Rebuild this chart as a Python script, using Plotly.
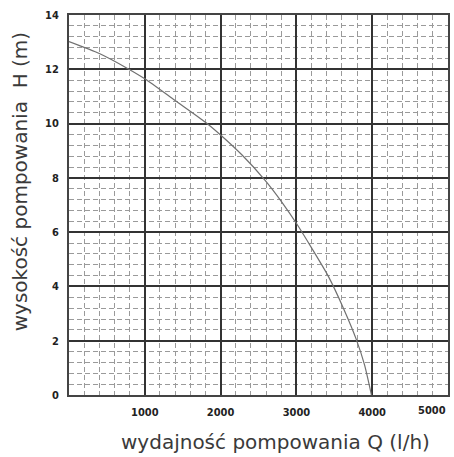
import plotly.graph_objects as go

# Pump curve: flow Q (l/h) vs head H (m)
Q = [0, 400, 760, 1000, 1400, 1800, 2000, 2280, 2590, 2810, 3010, 3200, 3420, 3620, 3790, 3900, 3990]
H = [13.02, 12.58, 12.05, 11.65, 10.85, 10.05, 9.58, 8.85, 7.9, 7.1, 6.28, 5.42, 4.38, 3.2, 2.05, 1.1, 0.0]

x_ticks = [0, 1000, 2000, 3000, 4000, 5000]
x_labels = ["", "1000", "2000", "3000", "4000", ""]
x_last_label = "5000"
y_ticks = [0, 2, 4, 6, 8, 10, 12, 14]
y_labels = ["0", "2", "4", "6", "8", "10", "12", "14"]

x_title = "wydajność pompowania Q (l/h)"
y_title = "wysokość pompowania  H (m)"

fig = go.Figure()
fig.add_trace(go.Scatter(x=Q, y=H, mode="lines",
                         line=dict(color="#707070", width=1.2, shape="spline", smoothing=0.6),
                         showlegend=False, hoverinfo="skip"))

tickfont = dict(family="DejaVu Sans Condensed", size=11, color="#222", weight="bold")

fig.update_xaxes(range=[0, 5000], tickmode="array", tickvals=x_ticks, ticktext=x_labels,
                 showgrid=True, gridcolor="#333", gridwidth=2, zeroline=False,
                 showline=True, linecolor="#444", linewidth=2, mirror=True,
                 ticks="", ticklabelstandoff=6, tickfont=tickfont,
                 minor=dict(dtick=200, tick0=0, showgrid=True, gridcolor="#9a9a9a", gridwidth=1,
                            griddash="5px,3px"))
fig.update_yaxes(range=[0, 14], tickmode="array", tickvals=y_ticks, ticktext=y_labels,
                 showgrid=True, gridcolor="#333", gridwidth=2, zeroline=False,
                 showline=True, linecolor="#444", linewidth=2, mirror=True,
                 ticks="", ticklabelstandoff=6, tickfont=tickfont,
                 minor=dict(dtick=0.4, tick0=0, showgrid=True, gridcolor="#9a9a9a", gridwidth=1,
                            griddash="5px,3px"))

# last x tick label sits inside the right edge
fig.add_annotation(text=x_last_label, x=5000, xref="x", y=0, yref="y", yshift=-15,
                   xanchor="right", yanchor="middle", showarrow=False, font=tickfont)

titlefont = dict(family="DejaVu Sans", size=20, color="#3a3a3a")
fig.add_annotation(text=x_title, xref="paper", yref="paper", x=(277 - 69) / 381, y=-(442 - 395) / 380,
                   showarrow=False, font=titlefont, xanchor="center", yanchor="middle")
fig.add_annotation(text=y_title, xref="paper", yref="paper", x=(20 - 69) / 381, y=(395 - 182) / 380,
                   showarrow=False, font=titlefont, textangle=-90, xanchor="center", yanchor="middle")

fig.update_layout(width=454, height=457, margin=dict(l=69, r=4, t=15, b=62),
                  paper_bgcolor="white", plot_bgcolor="white")

fig.write_html("out.html")
